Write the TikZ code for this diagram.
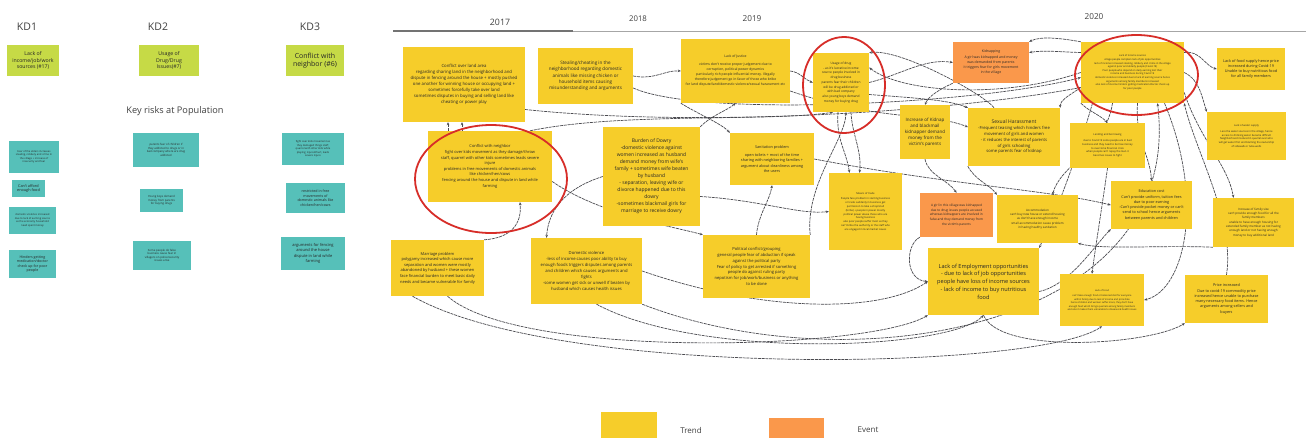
\documentclass[tikz,border=0pt]{standalone}
\usepackage{fontspec}
\setmainfont{Open Sans}
\usetikzlibrary{arrows.meta,backgrounds}
\definecolor{yel}{RGB}{246,205,42}
\definecolor{org}{RGB}{250,152,75}
\definecolor{tealc}{RGB}{86,192,185}
\definecolor{lgreen}{RGB}{198,218,70}
\definecolor{redc}{RGB}{215,45,40}
\definecolor{linec}{RGB}{75,75,80}
\newcommand{\myfs}[2]{\fontsize{#1}{#2}\selectfont}
\begin{document}
\begin{tikzpicture}[x=1pt,y=-1pt,
  box/.style={rectangle, inner sep=0.5pt, align=center, text=black!85, anchor=center},
  ybox/.style={box, fill=yel},
  obox/.style={box, fill=org},
  tbox/.style={box, fill=tealc},
  gbox/.style={box, fill=lgreen},
  conn/.style={draw=linec, line width=0.7pt, dash pattern=on 3pt off 0.8pt, -{Stealth[length=3pt,width=2.6pt]}},
  redring/.style={draw=redc, line width=1.8pt},
  lbl/.style={text=black!75, anchor=center, inner sep=0pt}]
\useasboundingbox (0,0) rectangle (1306,437);

% ---- left part ----
\node[lbl, font=\myfs{10.5}{12}] (kd1lab) at (27,27) {KD1};
\node[lbl, font=\myfs{10.5}{12}] (kd2lab) at (158,27) {KD2};
\node[lbl, font=\myfs{10.5}{12}] (kd3lab) at (310,27) {KD3};
\node[gbox, minimum width=52pt, minimum height=31pt, font=\myfs{5.2}{6.5}] (kd1) at (33,60.5) {Lack of\\income/job/work\\sources (\#17)};
\node[gbox, minimum width=60pt, minimum height=31pt, font=\myfs{5.2}{6.5}] (kd2) at (169,60.5) {Usage of\\Drug/Drug\\Issues(\#7)};
\node[gbox, minimum width=58pt, minimum height=31pt, font=\myfs{7}{8.5}] (kd3) at (315,60.5) {Conflict with\\neighbor (\#6)};
\node[lbl, font=\myfs{9.2}{11}] (keyrisk) at (175,111) {Key risks at Population};

\node[tbox, minimum width=50pt, minimum height=32pt, font=\myfs{2.6}{3.5}] (t11) at (34,157) {Fear of the elders increases\\stealing, robbery and crime in\\the village + increase of\\insecurity and fear};
\node[tbox, minimum width=33pt, minimum height=17pt, font=\myfs{3.8}{4.6}] (t12) at (28.5,188.5) {Can't afford\\enough food};
\node[tbox, minimum width=47pt, minimum height=27pt, font=\myfs{2.6}{3.5}] (t13) at (32.5,220.5) {domestic violence increased\\due to lack of earning source\\as the economy household\\need spent money};
\node[tbox, minimum width=47pt, minimum height=28pt, font=\myfs{3.6}{4.6}] (t14) at (32.5,264) {Hinders getting\\medication/doctor\\check up for poor\\people};

\node[tbox, minimum width=66pt, minimum height=34pt, font=\myfs{2.8}{3.6}] (t21) at (166,150) {parents fear of children if\\they addicted to drugs or in\\bad company where are drug\\addicted};
\node[tbox, minimum width=43pt, minimum height=23pt, font=\myfs{2.8}{3.6}] (t22) at (161.5,200.5) {Young boys demand\\money from parents\\for buying drugs};
\node[tbox, minimum width=58pt, minimum height=29pt, font=\myfs{2.8}{3.6}] (t23) at (162,255.5) {Some people do false\\business cause fear in\\villagers on police/security\\issues arise};

\node[tbox, minimum width=62pt, minimum height=32pt, font=\myfs{2.6}{3.4}] (t31) at (313,149) {fight over kids movement as\\they damaged things staff,\\quarrel with other kids while\\playing; injured/hurt, leads\\severe injure};
\node[tbox, minimum width=59pt, minimum height=30pt, font=\myfs{3.6}{4.6}] (t32) at (315.5,198) {restricted in free\\movements of\\domestic animals like\\chicken/hen/cows};
\node[tbox, minimum width=64pt, minimum height=33pt, font=\myfs{4}{5.2}] (t33) at (313,253.5) {arguments for fencing\\around the house\\dispute in land while\\farming};

% ---- timeline ----
\coordinate (tl0) at (393,31);
\coordinate (tl1) at (573,31);
\coordinate (tl2) at (1306,31);
\draw[black!55, line width=1.2pt] (tl0) -- (tl1);
\draw[black!35, line width=1pt] (tl1) -- (tl2);
\node[lbl, font=\myfs{8.8}{10}] (y17) at (500,22) {2017};
\node[lbl, font=\myfs{7.8}{9}] (y18) at (638,19) {2018};
\node[lbl, font=\myfs{8.2}{9.5}] (y19) at (752,19) {2019};
\node[lbl, font=\myfs{8.2}{9.5}] (y20) at (1094,17) {2020};

% ---- yellow / orange boxes ----
\node[ybox, minimum width=122pt, minimum height=75pt, font=\myfs{4.3}{6}] (landA) at (464,84.5) {Conflict over land area\\regarding sharing land in the neighborhood and\\dispute in fencing around the house + mostly pushed\\one another for winning house or occupying land +\\sometimes forcefully take over land\\sometimes disputes in buying and selling land like\\cheating or power play};
\node[ybox, minimum width=95pt, minimum height=56pt, font=\myfs{4.6}{6.4}] (steal) at (585.5,76) {Stealing/cheating in the\\neighborhood regarding domestic\\animals like missing chicken or\\household items causing\\misunderstanding and arguments};
\node[ybox, minimum width=109pt, minimum height=64pt, font=\myfs{3.4}{5}] (justice) at (735.5,71) {Lack of Justice\\[3pt]victims don't receive proper judgement due to\\corruption, political power dynamics\\particularly rich people influential money. Illegally\\therefore judgement go in favor of those who bribe\\for land dispute/land/domestic violence/sexual harassment etc};
\node[ybox, minimum width=56pt, minimum height=59pt, font=\myfs{3.2}{4.7}] (drug) at (841,82.5) {Usage of drug\\- as it's lucrative income\\source people involved in\\drug business\\parents fear their children\\will be drug addicted or\\with bad company\\also young boys demand\\money for buying drug};
\node[obox, minimum width=76pt, minimum height=41pt, font=\myfs{3.5}{5}] (kidnap) at (991,62.5) {Kidnapping\\[1pt]A girl was kidnapped and money\\was demanded from parents\\it triggers fear for girls movement\\in the village};
\node[ybox, minimum width=103pt, minimum height=61pt, font=\myfs{2.5}{3.6}] (income) at (1132.5,72.5) {Lack of income sources\\village people complain lack of job opportunities\\lack of income increased stealing, robbery and crime in the village\\against poor and elderly people (Covid-19)\\Poor people who depend on daily earning lost their\\income and business during Covid-19\\domestic violence increased due to lack of earning source hence\\arguments among family members increased\\also lack of income hinders getting medication/doctor check up\\for poor people};
\node[ybox, minimum width=68pt, minimum height=42pt, font=\myfs{3.8}{5.2}] (foodsup) at (1251,69) {Lack of food supply hence price\\increased during Covid-19\\Unable to buy nutritious food\\for all family members};

\node[ybox, minimum width=124pt, minimum height=71pt, font=\myfs{4}{5.6}] (neigh) at (490,166.5) {Conflict with neighbor\\fight over kids movement as they damage/throw\\staff, quarrel with other kids sometimes leads severe\\injure\\problems in free movements of domestic animals\\like chicken/hen/cows\\fencing around the house and dispute in land while\\farming};
\node[ybox, minimum width=97pt, minimum height=99pt, font=\myfs{5}{7}] (dowry) at (651.5,176.5) {Burden of Dowry\\-domestic violence against\\women increased as husband\\demand money from wife's\\family + sometimes wife beaten\\by husband\\- separation, leaving wife or\\divorce happened due to this\\dowry\\-sometimes blackmail girls for\\marriage to receive dowry};
\node[ybox, minimum width=84pt, minimum height=52pt, font=\myfs{3.8}{5.3}] (sanit) at (772,159) {Sanitation problem\\[3pt]open toilets + most of the time\\sharing with neighboring families +\\argument about cleanliness among\\the users};
\node[ybox, minimum width=50pt, minimum height=54pt, font=\myfs{4.5}{6}] (kidinc) at (925,132) {Increase of Kidnap\\and blackmail\\kidnapper demand\\money from the\\victim's parents};
\node[ybox, minimum width=92pt, minimum height=58pt, font=\myfs{4.2}{5.8}] (sexual) at (1014,137) {{\myfs{5}{6.5}Sexual Harassment}\\-Frequent teasing which hinders free\\movement of girls and women\\- it reduces the interest of parents\\of girls schooling\\some parents fear of kidnap};
\node[ybox, minimum width=75pt, minimum height=45pt, font=\myfs{2.6}{3.7}] (lending) at (1107.5,145.5) {Lending and borrowing\\[2pt]due to Covid-19 some people are in bad\\business and they need to borrow money\\to overcome financial crisis\\when people can't repay the loan it\\becomes issues to fight};
\node[ybox, minimum width=79pt, minimum height=48pt, font=\myfs{2.6}{3.7}] (water) at (1246.5,136) {Lack of water supply\\[2pt]Less the water sources in the village, hence\\access to drinking water became difficult\\Neighborhood involved in quarrel over who\\will get water first and blaming the ownership\\of sidewalk or tube-wells};
\node[ybox, minimum width=81pt, minimum height=48pt, font=\myfs{3.8}{5.3}] (educ) at (1151.5,205) {Education cost\\Can't provide uniform, tuition fees\\due to poor earning\\-Can't provide pocket money or can't\\send to school hence arguments\\between parents and children};
\node[ybox, minimum width=81pt, minimum height=48pt, font=\myfs{3}{4.3}] (accom) at (1037.5,219) {Accommodation\\can't buy new house or extend housing\\as don't have enough income\\small accommodation cause problem\\in having healthy sanitation};
\node[ybox, minimum width=81pt, minimum height=49pt, font=\myfs{3}{4.3}] (family) at (1253.5,222.5) {Increase of family size\\can't provide enough food for all the\\family members\\unable to have enough housing for\\extended family member as not having\\enough land or not having enough\\money to buy additional land};
\node[ybox, minimum width=73pt, minimum height=77pt, font=\myfs{2.6}{3.8}] (trade) at (865.5,211.5) {Means of trade\\[2pt]People face problem in starting business\\or trade suddenly in business get\\permission to take a shop/stall\\(bribe) + people in power mostly\\political power abuse those who are\\having business\\also poor people suffer most as they\\can't bribe the authority or the staff who\\are engaged in local market issues};
\node[obox, minimum width=73pt, minimum height=44pt, font=\myfs{3.2}{4.6}] (girlkid) at (956.5,215) {A girl in this village was kidnapped\\due to drug issues people accused\\whereas kidnappers are involved in\\false and they demand money from\\the victim's parents};
\node[ybox, minimum width=93pt, minimum height=56pt, font=\myfs{4}{5.6}] (marriage) at (437.5,268) {Marriage problem\\polygamy increased which cause more\\separation and women were mostly\\abandoned by husband + these women\\face financial burden to meet basic daily\\needs and became vulnerable for family};
\node[ybox, minimum width=111pt, minimum height=66pt, font=\myfs{4.2}{5.9}] (domestic) at (586.5,271) {Domestic violence\\-less of income causes poor ability to buy\\enough foods triggers disputes among parents\\and children which causes arguments and\\fights\\-some women get sick or unwell if beaten by\\husband which causes health issues};
\node[ybox, minimum width=107pt, minimum height=63pt, font=\myfs{4.1}{5.8}] (political) at (756.5,266.5) {Political conflict/grouping\\general people fear of abduction if speak\\against the political party\\Fear of policy to get arrested if something\\people do against ruling party\\nepotism for job/work/business or anything\\to be done};
\node[ybox, minimum width=111pt, minimum height=67pt, font=\myfs{5.6}{7.8}] (employ) at (983.5,281.5) {Lack of Employment opportunities\\- due to lack of job opportunities\\people have loss of income sources\\- lack of income to buy nutritious\\food};
\node[ybox, minimum width=84pt, minimum height=52pt, font=\myfs{2.4}{3.5}] (lackfood) at (1102,300) {Lack of Food\\[2pt]can't take enough food or balanced diet for everyone\\within family due to lack of income and price hike\\hence children and women suffer more, they don't have\\enough food which brings quarrels among family members\\and also it makes them vulnerable to diseases \& health issues};
\node[ybox, minimum width=83pt, minimum height=48pt, font=\myfs{3.8}{5.3}] (price) at (1226.5,299) {Price increased\\Due to covid-19 commodity price\\increased hence unable to purchase\\many necessary food items. Hence\\arguments among sellers and\\buyers};

% ---- legend ----
\node[box, fill=yel, minimum width=56pt, minimum height=30pt] (legT) at (629,427) {};
\node[lbl, font=\myfs{8}{9}] (legTt) at (691,430) {Trend};
\node[box, fill=org, minimum width=55pt, minimum height=26pt] (legE) at (796.5,431) {};
\node[lbl, font=\myfs{8}{9}] (legEt) at (868,430) {Event};

% ---- connectors ----
\begin{pgfonlayer}{background}
\fill[white] (0,0) rectangle (1306,437);
\draw[conn] ([xshift=-42pt]neigh.north) -- ([xshift=-16pt]landA.south);
\draw[conn] ([xshift=-28pt]neigh.north) -- ([xshift=-2pt]landA.south);
\draw[conn] ([xshift=40pt]neigh.north) .. controls (620,112) and (770,122) .. ([xshift=-8pt]drug.south);
\draw[conn] ([yshift=-15pt]neigh.east) .. controls (600,215) and (680,228) .. (political.north west);
\draw[conn] (dowry.west) .. controls (560,190) and (548,215) .. ([xshift=-40pt]domestic.north);
\draw[conn] (marriage.north east) .. controls (510,238) and (522,225) .. ([xshift=30pt]neigh.south);
\draw[conn] ([xshift=10pt]marriage.south) .. controls (520,360) and (870,350) .. (employ.south west);
\draw[conn] ([xshift=-25pt]marriage.south) .. controls (560,380) and (1040,370) .. (lackfood.south);
\draw[conn] ([xshift=10pt]domestic.south) .. controls (700,360) and (950,350) .. (employ.south);
\draw[conn] (domestic.south east) .. controls (850,385) and (1185,330) .. ([xshift=25pt]income.south);
\draw[conn] (domestic.east) .. controls (760,312) and (880,314) .. (employ.west);
\draw[conn] (political.north east) .. controls (805,185) and (845,140) .. ([xshift=5pt]drug.south);
\draw[conn] ([xshift=-3pt]drug.south) .. controls (836,140) and (846,150) .. ([xshift=-16pt]trade.north);
\draw[conn] ([xshift=10pt]drug.south) .. controls (852,135) and (862,150) .. ([xshift=-6pt]trade.north);
\draw[conn] (drug.east) .. controls (900,75) and (925,58) .. (kidnap.west);
\draw[conn] ([yshift=-12pt]drug.east) .. controls (915,98) and (950,100) .. (sexual.north west);
\draw[conn] (kidnap.south west) .. controls (938,90) and (928,97) .. (kidinc.north);
\draw[conn] ([yshift=20pt]income.west) .. controls (1060,52) and (1045,50) .. ([yshift=10pt]kidnap.east);
\draw[conn] ([yshift=-15pt]income.west) .. controls (1070,95) and (1060,100) .. (sexual.north east);
\draw[conn] (income.west) .. controls (1000,100) and (900,92) .. ([yshift=15pt]drug.east);
\draw[conn] (income.south west) .. controls (1090,112) and (1100,115) .. (lending.north);
\draw[conn] ([xshift=-20pt]income.south) .. controls (1105,150) and (1060,165) .. ([xshift=15pt]accom.north);
\draw[conn] ([xshift=5pt]income.south) .. controls (1135,140) and (1150,155) .. (educ.north);
\draw[conn] ([xshift=32pt]income.south) .. controls (1205,200) and (1185,290) .. (lackfood.east);
\draw[conn] ([xshift=-40pt]income.south) .. controls (1070,180) and (1050,225) .. (employ.north east);
\draw[conn] ([yshift=20pt]income.east) .. controls (1200,50) and (1205,66) .. (foodsup.west);
\draw[conn] (income.east) .. controls (1200,80) and (1202,98) .. (water.north west);
\draw[conn] ([yshift=-20pt]income.east) .. controls (1200,140) and (1228,165) .. ([xshift=-20pt]family.north);
\draw[conn] (price.north) .. controls (1235,220) and (1195,150) .. (income.south east);
\draw[conn] (family.south west) .. controls (1160,245) and (1100,250) .. (accom.south east);
\draw[conn] ([yshift=-10pt]employ.east) .. controls (1070,285) and (1095,245) .. (educ.south west);
\draw[conn] (girlkid.south west) .. controls (905,245) and (905,280) .. (employ.west);
\draw[conn] (kidinc.south) .. controls (928,175) and (948,180) .. (girlkid.north);
\draw[conn] (sexual.south west) .. controls (975,180) and (990,185) .. (accom.north west);
\draw[conn] (lending.south) .. controls (1100,220) and (1095,250) .. ([xshift=-10pt]lackfood.north);
\draw[conn] (sanit.east) .. controls (950,185) and (1050,190) .. (educ.west);
\draw[conn] ([yshift=-25pt]landA.east) .. controls (700,128) and (950,112) .. ([yshift=-15pt]income.west);
\draw[conn] (steal.east) .. controls (655,80) and (665,70) .. (justice.west);
\draw[conn] ([yshift=-12pt]steal.east) .. controls (700,118) and (980,104) .. ([yshift=-5pt]income.west);
\draw[conn] (justice.south west) .. controls (700,115) and (722,124) .. (sanit.north west);
\draw[conn] (dowry.north east) .. controls (712,115) and (728,110) .. (justice.south);
\draw[conn] ([yshift=-20pt]dowry.east) .. controls (760,200) and (800,215) .. (trade.west);
\draw[conn] (political.north) .. controls (758,215) and (770,200) .. (sanit.south);
\draw[conn] (employ.south) .. controls (1000,355) and (1150,345) .. (price.south west);
\draw[conn] (justice.east) .. controls (800,72) and (805,80) .. (drug.west);
\draw[conn] ([yshift=-20pt]justice.east) .. controls (880,122) and (930,112) .. ([yshift=10pt]sexual.west);
\draw[conn] (income.north west) .. controls (1060,38) and (1040,36) .. (kidnap.north east);
\draw[conn] ([xshift=-20pt]sexual.north) .. controls (985,95) and (900,48) .. (drug.north east);
\end{pgfonlayer}

% ---- red rings ----
\draw[redring] (844,85) ellipse [x radius=41pt, y radius=48pt];
\draw[redring] (1136.5,75) ellipse [x radius=61.5pt, y radius=40pt];
\draw[redring] (491,179) ellipse [x radius=76pt, y radius=54pt];
\end{tikzpicture}
\end{document}
